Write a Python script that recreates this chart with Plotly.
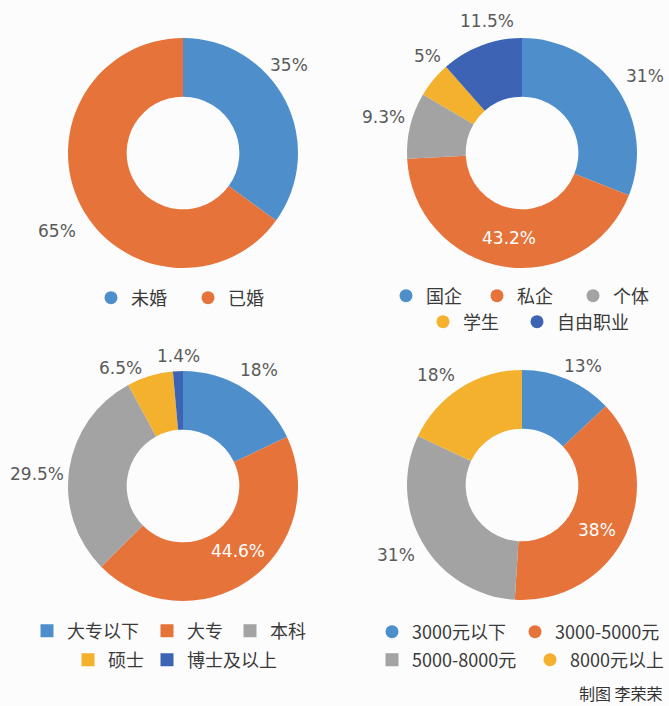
import plotly.graph_objects as go

# ---------------- data ----------------
marital_labels = ["未婚", "已婚"]
marital_values = [35, 65]

work_labels = ["国企", "私企", "个体", "学生", "自由职业"]
work_values = [31, 43.2, 9.3, 5, 11.5]

edu_labels = ["大专以下", "大专", "本科", "硕士", "博士及以上"]
edu_values = [18, 44.6, 29.5, 6.5, 1.4]

income_labels = ["3000元以下", "3000-5000元", "5000-8000元", "8000元以上"]
income_values = [13, 38, 31, 18]

credit_text = "制图 李荣荣"

# ---------------- styles ----------------
W, H = 669, 706
COLORS = ["#4e8fcb", "#e5733a", "#a3a3a3", "#f3b12e", "#3d64b4"]
BG = "#fcfcfc"
LABEL_FONT = "DejaVu Sans"
CJK_FONT = "Noto Sans CJK SC"


def px(x):
    return x / W


def py(y):
    return 1 - y / H


def dom(cx, cy, r):
    return dict(x=[px(cx - r), px(cx + r)], y=[py(cy + r), py(cy - r)])


charts = [
    dict(labels=marital_labels, values=marital_values, center=(183, 153),
         label_pos=[(289, 65), (57, 231)], inside=[]),
    dict(labels=work_labels, values=work_values, center=(522, 153),
         label_pos=[(645, 76), (509, 238), (383, 117), (427, 56), (487, 21)], inside=[1]),
    dict(labels=edu_labels, values=edu_values, center=(183, 486),
         label_pos=[(259, 370), (238, 551), (37, 474), (120, 368), (178, 356)], inside=[1]),
    dict(labels=income_labels, values=income_values, center=(522, 485),
         label_pos=[(583, 366), (597, 530), (396, 555), (436, 375)], inside=[1]),
]

R = 115
fig = go.Figure()
annotations = []
for ch in charts:
    cx, cy = ch["center"]
    fig.add_trace(go.Pie(
        labels=ch["labels"], values=ch["values"], hole=0.49, sort=False,
        direction="clockwise", rotation=0, textinfo="none", hoverinfo="label+percent",
        marker=dict(colors=COLORS[:len(ch["values"])], line=dict(width=0)),
        domain=dom(cx, cy, R), showlegend=False,
    ))
    for i, (v, (lx, ly)) in enumerate(zip(ch["values"], ch["label_pos"])):
        annotations.append(dict(
            x=px(lx), y=py(ly), xref="paper", yref="paper", showarrow=False,
            text=f"{v:g}%", xanchor="center", yanchor="middle",
            font=dict(family=LABEL_FONT, size=17,
                      color="#ffffff" if i in ch["inside"] else "#5a5a5a"),
        ))

# legend entries: (chart index, item index, marker centre x, y, symbol)
legend_items = [
    (0, 0, 111, 298, "circle"), (0, 1, 208, 298, "circle"),
    (1, 0, 406, 296, "circle"), (1, 1, 497, 296, "circle"), (1, 2, 593, 296, "circle"),
    (1, 3, 443, 322, "circle"), (1, 4, 537, 322, "circle"),
    (2, 0, 47, 631, "square"), (2, 1, 167, 631, "square"), (2, 2, 250, 631, "square"),
    (2, 3, 88, 660, "square"), (2, 4, 167, 660, "square"),
    (3, 0, 392, 632, "circle"), (3, 1, 535, 632, "circle"),
    (3, 2, 392, 660, "square"), (3, 3, 550, 660, "circle"),
]

layout_legends = {}
for n, (ci, i, mx, my, sym) in enumerate(legend_items):
    lid = "legend" if n == 0 else f"legend{n + 1}"
    fig.add_trace(go.Scatter(
        x=[None], y=[None], mode="markers", name=charts[ci]["labels"][i],
        marker=dict(color=COLORS[i], size=13, symbol=sym),
        legend=lid, showlegend=True, hoverinfo="skip",
    ))
    layout_legends[lid] = dict(
        orientation="h", x=px(mx - 20), y=py(my), xanchor="left", yanchor="middle",
        bgcolor="rgba(0,0,0,0)", borderwidth=0, itemclick=False, itemdoubleclick=False,
        font=dict(family=CJK_FONT, size=18, color="#3a3a3a"),
    )

annotations.append(dict(
    x=px(665), y=py(693), xref="paper", yref="paper", showarrow=False,
    text=credit_text, xanchor="right", yanchor="middle",
    font=dict(family=CJK_FONT, size=16, color="#333333"),
))

fig.update_layout(
    width=W, height=H, margin=dict(l=0, r=0, t=0, b=0),
    paper_bgcolor=BG, plot_bgcolor=BG,
    xaxis=dict(visible=False), yaxis=dict(visible=False),
    annotations=annotations,
    **layout_legends,
)

fig.write_html(
    "out.html",
    config={"displayModeBar": False},
    post_script="document.body.style.margin='0';document.body.style.overflow='hidden';",
)
